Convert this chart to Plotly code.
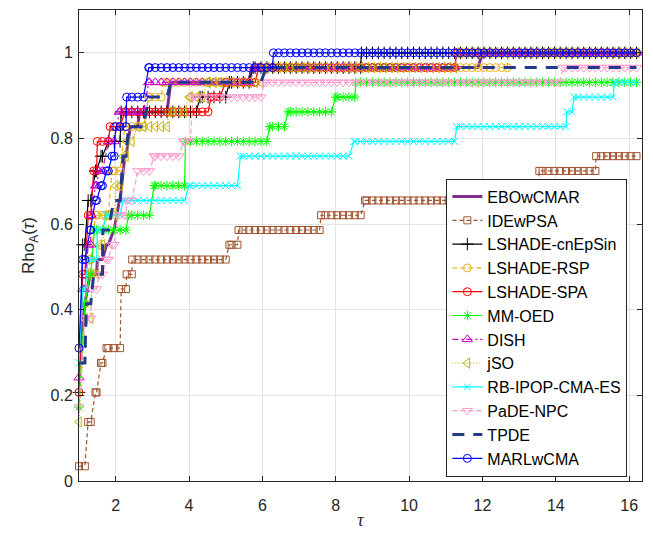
import numpy as np
import plotly.graph_objects as go

# Performance profile: fraction of the 29 benchmark problems solved within a factor tau of the best
N_PROBLEMS = 29
TAU_MAX = 16.3

# Each solver: tau at which its solved-count steps up, and the count reached there
ebowcmar_tau = [1.0, 1.15, 1.3, 1.5, 1.75, 1.95, 2.1, 2.25, 2.4, 2.65, 3.5, 5.7, 12.0]
ebowcmar_solved = [8, 12, 14, 15, 16, 17, 19, 22, 24, 25, 27, 28, 29]

idewpsa_tau = [1.0, 1.25, 1.45, 1.6, 1.75, 2.15, 2.3, 2.45, 5.1, 5.35, 7.6, 8.8, 13.55, 15.1]
idewpsa_solved = [1, 4, 6, 8, 9, 13, 14, 15, 16, 17, 18, 19, 21, 22]

cnepsin_tau = [1.0, 1.1, 1.25, 1.45, 1.6, 1.8, 2.15, 4.3, 5.1, 5.75, 8.7]
cnepsin_solved = [6, 16, 19, 21, 22, 23, 25, 26, 27, 28, 29]

rsp_tau = [1.0, 1.15, 1.3, 1.45, 1.9, 2.25, 2.9, 3.3, 5.9, 12.7]
rsp_solved = [6, 12, 15, 18, 21, 24, 26, 27, 28, 29]

spa_tau = [1.0, 1.1, 1.25, 1.4, 1.5, 1.85, 2.25, 4.6, 5.0, 5.9, 11.3]
spa_solved = [6, 14, 18, 21, 23, 24, 25, 26, 27, 28, 29]

mmoed_tau = [1.0, 1.15, 1.3, 1.42, 2.35, 3.05, 3.9, 6.2, 6.7, 8.0, 8.55]
mmoed_solved = [5, 12, 14, 17, 18, 20, 23, 24, 25, 26, 27]

dish_tau = [1.0, 1.1, 1.25, 1.33, 1.45, 1.55, 1.8, 2.1, 2.9, 5.8, 11.3]
dish_solved = [7, 13, 16, 18, 20, 21, 23, 25, 27, 28, 29]

jso_tau = [1.0, 1.15, 1.35, 1.55, 1.7, 2.0, 2.2, 2.3, 2.6, 3.45, 4.0, 4.5, 6.05, 11.3]
jso_solved = [4, 11, 14, 16, 18, 20, 22, 23, 24, 25, 26, 27, 28, 29]

rbipop_tau = [1.0, 1.1, 1.25, 1.5, 1.75, 2.2, 4.0, 5.4, 8.5, 11.3, 14.3, 14.5, 15.6]
rbipop_solved = [8, 13, 15, 17, 18, 19, 20, 22, 23, 24, 25, 26, 27]

pade_tau = [1.0, 1.15, 1.35, 1.55, 1.75, 1.9, 2.05, 2.3, 2.6, 3.05, 3.85, 4.1, 6.05, 14.2]
pade_solved = [5, 11, 13, 14, 15, 16, 18, 19, 21, 22, 23, 26, 27, 28]

tpde_tau = [1.0, 1.2, 1.4, 1.65, 1.95, 2.2, 2.35, 2.9, 3.5, 6.1]
tpde_solved = [8, 12, 14, 17, 19, 22, 24, 26, 27, 28]

marl_tau = [1.0, 1.1, 1.3, 1.45, 1.6, 1.75, 1.9, 2.0, 2.3, 2.9, 6.3]
marl_solved = [9, 15, 17, 19, 20, 21, 22, 24, 26, 28, 29]

# tau values at which every profile is evaluated
tau_grid = np.round(np.arange(1.0, TAU_MAX + 1e-9, 0.16), 4)

series = [
    ("EBOwCMAR", ebowcmar_tau, ebowcmar_solved,
     dict(color="#7E2F8E", width=3, dash="solid"), None),
    ("IDEwPSA", idewpsa_tau, idewpsa_solved,
     dict(color="#A0522D", width=1.2, dash="4px,3px"), dict(symbol="square-open", size=7)),
    ("LSHADE-cnEpSin", cnepsin_tau, cnepsin_solved,
     dict(color="#000000", width=1.2, dash="solid"), dict(symbol="cross-thin-open", size=9)),
    ("LSHADE-RSP", rsp_tau, rsp_solved,
     dict(color="#EDB120", width=1.2, dash="5px,3px"), dict(symbol="circle-open", size=8)),
    ("LSHADE-SPA", spa_tau, spa_solved,
     dict(color="#FF0000", width=1.2, dash="solid"), dict(symbol="circle-open", size=8)),
    ("MM-OED", mmoed_tau, mmoed_solved,
     dict(color="#00FF00", width=1.2, dash="solid"), dict(symbol="asterisk-open", size=8)),
    ("DISH", dish_tau, dish_solved,
     dict(color="#CC00CC", width=1.2, dash="6px,3px,2px,3px"), dict(symbol="triangle-up-open", size=9)),
    ("jSO", jso_tau, jso_solved,
     dict(color="#C2B400", width=1.2, dash="1px,2px"), dict(symbol="triangle-left-open", size=9)),
    ("RB-IPOP-CMA-ES", rbipop_tau, rbipop_solved,
     dict(color="#00FFFF", width=1.2, dash="solid"), dict(symbol="x-thin-open", size=7)),
    ("PaDE-NPC", pade_tau, pade_solved,
     dict(color="#FF99CC", width=1.2, dash="5px,3px"), dict(symbol="triangle-down-open", size=9)),
    ("TPDE", tpde_tau, tpde_solved,
     dict(color="#233A8C", width=3, dash="12px,9px"), None),
    ("MARLwCMA", marl_tau, marl_solved,
     dict(color="#0000FF", width=1.2, dash="solid"), dict(symbol="circle-open", size=8)),
]

fig = go.Figure()
for name, taus, solved, line, marker in series:
    taus = np.asarray(taus, dtype=float)
    solved = np.asarray(solved, dtype=float)
    xs = np.unique(np.concatenate([tau_grid, taus]))
    idx = np.searchsorted(taus, xs, side="right") - 1
    ys = solved[idx] / N_PROBLEMS
    if marker is None:
        fig.add_trace(go.Scatter(x=xs, y=ys, mode="lines", name=name, line=line))
    else:
        fig.add_trace(go.Scatter(
            x=xs, y=ys, mode="lines+markers", name=name, line=line,
            marker=dict(symbol=marker["symbol"], size=marker["size"], color=line["color"],
                        line=dict(color=line["color"], width=1)),
            cliponaxis=False))

axis_common = dict(
    showgrid=True, gridcolor="#e3e3e3", gridwidth=1,
    showline=True, linecolor="#262626", linewidth=1, mirror="ticks",
    ticks="inside", ticklen=5, tickcolor="#262626", tickwidth=1,
    zeroline=False, tickfont=dict(size=16, color="#262626"),
)

fig.update_layout(
    width=653, height=538,
    margin=dict(l=79, r=11, t=10, b=57),
    plot_bgcolor="white", paper_bgcolor="white",
    font=dict(family="Liberation Sans, Arial, sans-serif", size=16, color="#262626"),
    xaxis=dict(range=[1, 16.35], tickvals=list(range(2, 17, 2)),
               ticklabelstandoff=10,
               title=dict(text="<i>τ</i>", font=dict(family="Liberation Serif, Times New Roman, serif", size=18),
                          standoff=0),
               **axis_common),
    yaxis=dict(range=[0, 1.1], tickvals=[0, 0.2, 0.4, 0.6, 0.8, 1.0],
               ticktext=["0", "0.2", "0.4", "0.6", "0.8", "1"],
               ticklabelstandoff=2,
               title=dict(text="Rho<sub>A</sub>(<i>τ</i>)", font=dict(size=17), standoff=11),
               **axis_common),
    legend=dict(x=0.6525, y=0.642, xanchor="left", yanchor="top",
                bgcolor="white", bordercolor="#262626", borderwidth=1,
                font=dict(size=16, color="#000000"), tracegroupgap=0),
    showlegend=True,
)

fig.write_html("out.html")
